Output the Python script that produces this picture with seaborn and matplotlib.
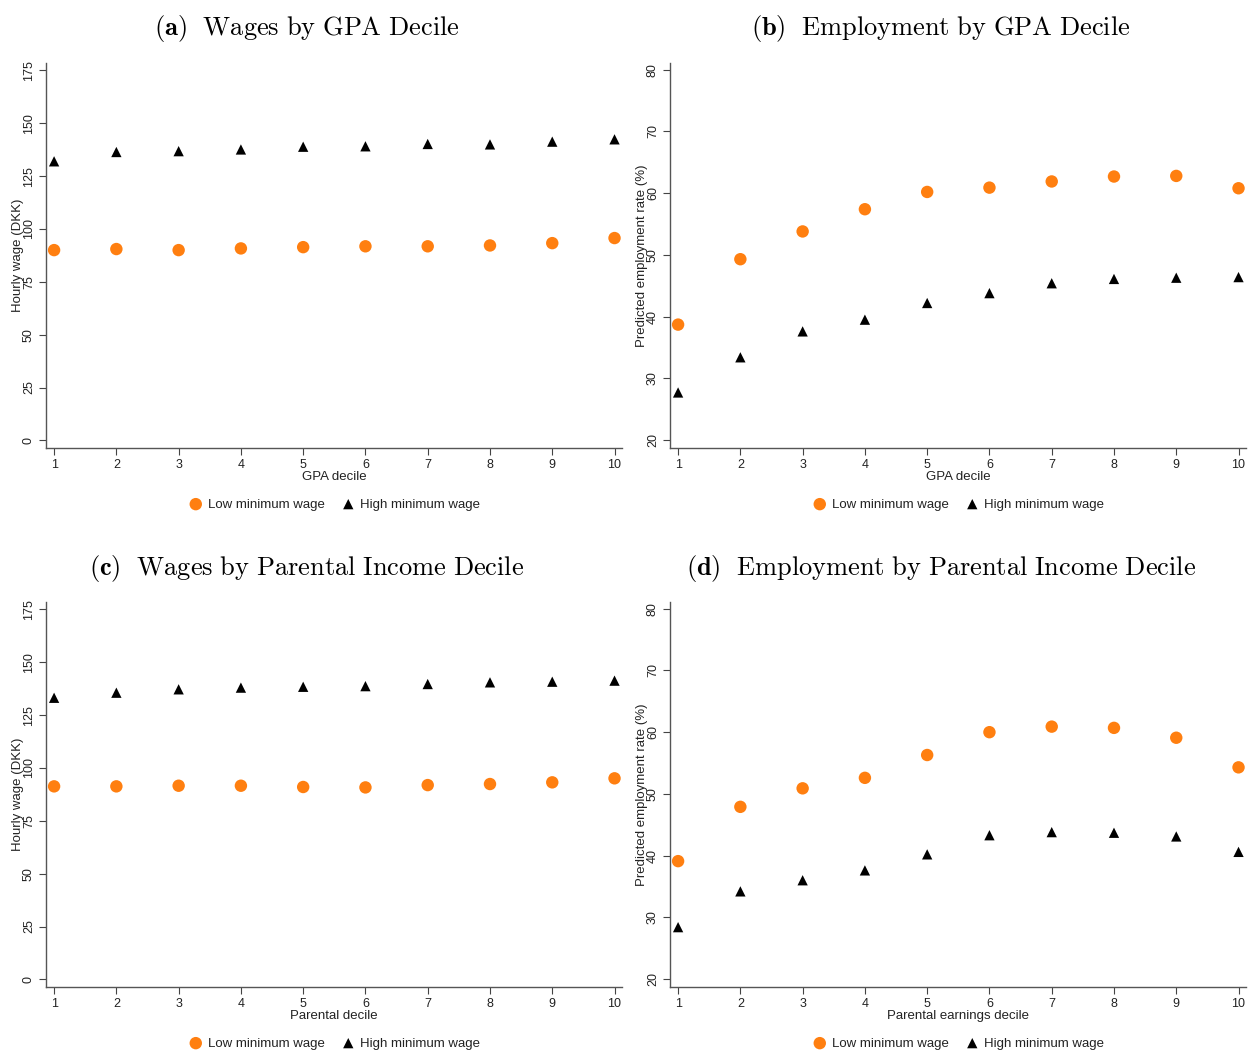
import seaborn as sns
import matplotlib.pyplot as plt
import pandas as pd
import numpy as np

# data
deciles = [1, 2, 3, 4, 5, 6, 7, 8, 9, 10]

wage_gpa_low = [90.0, 90.5, 90.0, 90.8, 91.4, 91.8, 91.8, 92.2, 93.3, 95.7]
wage_gpa_high = [132.0, 136.4, 136.8, 137.6, 138.9, 139.1, 140.2, 140.0, 141.3, 142.4]

emp_gpa_low = [38.7, 49.3, 53.8, 57.4, 60.2, 60.9, 61.9, 62.7, 62.8, 60.8]
emp_gpa_high = [27.7, 33.4, 37.6, 39.5, 42.2, 43.8, 45.4, 46.1, 46.3, 46.4]

wage_par_low = [91.3, 91.3, 91.6, 91.6, 91.0, 90.8, 91.9, 92.4, 93.2, 95.1]
wage_par_high = [133.2, 135.6, 137.2, 138.0, 138.4, 138.7, 139.7, 140.5, 140.8, 141.3]

emp_par_low = [39.1, 47.9, 50.9, 52.6, 56.3, 60.0, 60.9, 60.7, 59.1, 54.3]
emp_par_high = [28.4, 34.2, 36.0, 37.6, 40.2, 43.3, 43.8, 43.7, 43.1, 40.6]

titles = [r'$\mathbf{(a)}\ \ \mathrm{Wages\ by\ GPA\ Decile}$',
          r'$\mathbf{(b)}\ \ \mathrm{Employment\ by\ GPA\ Decile}$',
          r'$\mathbf{(c)}\ \ \mathrm{Wages\ by\ Parental\ Income\ Decile}$',
          r'$\mathbf{(d)}\ \ \mathrm{Employment\ by\ Parental\ Income\ Decile}$']
xlabels = ['GPA decile', 'GPA decile', 'Parental decile', 'Parental earnings decile']
ylabels = ['Hourly wage (DKK)', 'Predicted employment rate (%)',
           'Hourly wage (DKK)', 'Predicted employment rate (%)']

sns.set_style('white')
plt.rcParams['font.family'] = ['Liberation Sans', 'DejaVu Sans']
plt.rcParams['mathtext.fontset'] = 'cm'

orange = '#FF7F10'
txt = '#222222'

fig = plt.figure(figsize=(12.48, 10.51), dpi=100)
W, H = 1248, 1051
boxes = [(46, 63, 622, 448), (670, 63, 1246, 448),
         (46, 602, 622, 987), (670, 602, 1246, 987)]
series = [(wage_gpa_low, wage_gpa_high), (emp_gpa_low, emp_gpa_high),
          (wage_par_low, wage_par_high), (emp_par_low, emp_par_high)]
title_pos = [(307, 29), (941, 29), (307, 569), (941, 569)]

for i in range(4):
    l, t, r, b = boxes[i]
    ax = fig.add_axes([l / W, 1 - b / H, (r - l) / W, (b - t) / H])
    low, high = series[i]
    df = pd.DataFrame({'x': deciles, 'low': low, 'high': high})
    sns.scatterplot(data=df, x='x', y='low', marker='o', color=orange, s=80,
                    edgecolor='none', label='Low minimum wage', ax=ax)
    sns.scatterplot(data=df, x='x', y='high', marker='^', color='black', s=55,
                    edgecolor='none', label='High minimum wage', ax=ax)

    if i % 2 == 0:
        ax.set_ylim(-3.6, 178.5)
        ax.set_yticks([0, 25, 50, 75, 100, 125, 150, 175])
    else:
        ax.set_ylim(18.7, 81.1)
        ax.set_yticks([20, 30, 40, 50, 60, 70, 80])
    ax.set_xlim(0.87, 10.12)
    ax.set_xticks(deciles)

    for lab in ax.get_yticklabels():
        lab.set_rotation(90)
        lab.set_va('center')
    ax.tick_params(axis='both', which='major', direction='out', length=5, width=0.8,
                   color='#444444', labelsize=9, labelcolor=txt, pad=3,
                   left=True, bottom=True)
    for s in ['top', 'right']:
        ax.spines[s].set_visible(False)
    for s in ['left', 'bottom']:
        ax.spines[s].set_color('#555555')
        ax.spines[s].set_linewidth(1.0)

    ax.set_xlabel(xlabels[i], fontsize=9.5, color=txt, labelpad=0)
    ax.set_ylabel(ylabels[i], fontsize=9.5, color=txt)
    ax.yaxis.set_label_coords(-0.038, 0.5)

    ax.legend(loc='upper center', bbox_to_anchor=(0.5, -0.1), ncol=2, frameon=False,
              fontsize=9.5, handletextpad=0.3, handlelength=1.2, columnspacing=1.2,
              labelcolor=txt)

    tx, ty = title_pos[i]
    fig.text(tx / W, 1 - ty / H, titles[i], fontsize=19, ha='center', va='center', color='black')

fig.savefig('out.png', dpi=100)
